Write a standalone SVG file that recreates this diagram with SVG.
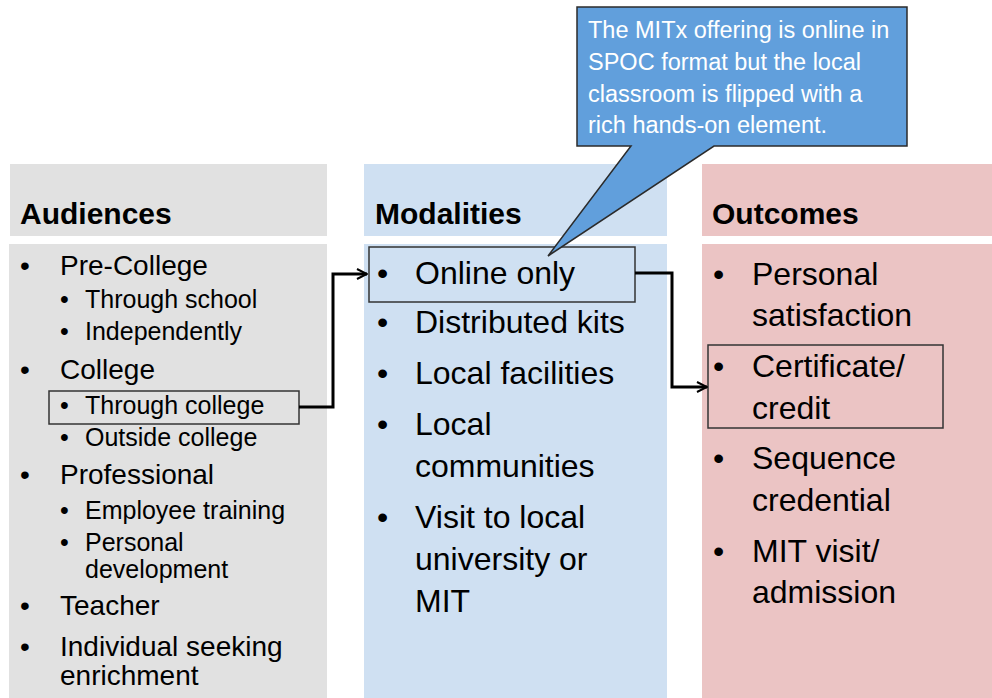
<svg xmlns="http://www.w3.org/2000/svg" width="992" height="698" viewBox="0 0 992 698">
<defs>
<marker id="arr" viewBox="0 0 12 12" refX="11" refY="6" markerWidth="12" markerHeight="12" markerUnits="userSpaceOnUse" orient="auto">
<path d="M1,1 L11,6 L1,11" fill="none" stroke="#000" stroke-width="2"/>
</marker>
<style>
text{font-family:"Liberation Sans",Arial,sans-serif;fill:#000}
.h{font-weight:bold;font-size:30px}
.m{font-size:32px}
.l{font-size:28px}
.s{font-size:25px}
.c{font-size:23.5px;fill:#fff}
.box{fill:none;stroke:#333;stroke-width:1.5}
.conn{fill:none;stroke:#000;stroke-width:3}
</style>
</defs>
<rect width="992" height="698" fill="#fff"/>
<g id="audiences">
<rect x="10" y="164" width="317" height="72" fill="#e1e1e1"/>
<rect x="9" y="244" width="318" height="454" fill="#e1e1e1"/>
<text class="h" x="20" y="224">Audiences</text>
<text class="l" x="20" y="275">•</text><text class="l" x="60" y="275">Pre-College</text>
<text class="s" x="60" y="308">•</text><text class="s" x="85" y="308">Through school</text>
<text class="s" x="60" y="340">•</text><text class="s" x="85" y="340">Independently</text>
<text class="l" x="20" y="379">•</text><text class="l" x="60" y="379">College</text>
<text class="s" x="60" y="414">•</text><text class="s" x="85" y="414">Through college</text>
<text class="s" x="60" y="446">•</text><text class="s" x="85" y="446">Outside college</text>
<text class="l" x="20" y="484">•</text><text class="l" x="60" y="484">Professional</text>
<text class="s" x="60" y="519">•</text><text class="s" x="85" y="519">Employee training</text>
<text class="s" x="60" y="551">•</text><text class="s" x="85" y="551">Personal</text>
<text class="s" x="85" y="578">development</text>
<text class="l" x="20" y="615">•</text><text class="l" x="60" y="615">Teacher</text>
<text class="l" x="20" y="656">•</text><text class="l" x="60" y="656">Individual seeking</text>
<text class="l" x="60" y="685">enrichment</text>
<rect class="box" x="49" y="391" width="250" height="33"/>
</g>
<g id="modalities">
<rect x="364" y="164" width="303" height="72" fill="#cfe0f2"/>
<rect x="364" y="244" width="303" height="454" fill="#cfe0f2"/>
<text class="h" x="375" y="224">Modalities</text>
<text class="m" x="377" y="284">•</text><text class="m" x="415" y="284">Online only</text>
<text class="m" x="377" y="333">•</text><text class="m" x="415" y="333">Distributed kits</text>
<text class="m" x="377" y="384">•</text><text class="m" x="415" y="384">Local facilities</text>
<text class="m" x="377" y="435">•</text><text class="m" x="415" y="435">Local</text>
<text class="m" x="415" y="477">communities</text>
<text class="m" x="377" y="528">•</text><text class="m" x="415" y="528">Visit to local</text>
<text class="m" x="415" y="570">university or</text>
<text class="m" x="415" y="612">MIT</text>
<rect class="box" x="369" y="247" width="266" height="55"/>
</g>
<g id="outcomes">
<rect x="702" y="164" width="290" height="72" fill="#ebc4c4"/>
<rect x="702" y="244" width="290" height="454" fill="#ebc4c4"/>
<text class="h" x="712" y="224">Outcomes</text>
<text class="m" x="713" y="285">•</text><text class="m" x="752" y="285">Personal</text>
<text class="m" x="752" y="326">satisfaction</text>
<text class="m" x="713" y="377">•</text><text class="m" x="752" y="377">Certificate/</text>
<text class="m" x="752" y="419">credit</text>
<text class="m" x="713" y="469">•</text><text class="m" x="752" y="469">Sequence</text>
<text class="m" x="752" y="511">credential</text>
<text class="m" x="713" y="562">•</text><text class="m" x="752" y="562">MIT visit/</text>
<text class="m" x="752" y="603">admission</text>
<rect class="box" x="708" y="345" width="235" height="83"/>
</g>
<g id="connectors">
<path class="conn" d="M299,407 H333 V274 H367" marker-end="url(#arr)"/>
<path class="conn" d="M635,273 H672 V387 H707" marker-end="url(#arr)"/>
</g>
<g id="callout">
<path d="M577,7 H907 V146 H714 L548,256 L631,146 H577 Z" fill="#619fdc" stroke="#2b2b2b" stroke-width="1.5" stroke-linejoin="miter"/>
<text class="c" x="588" y="38">The MITx offering is online in</text>
<text class="c" x="588" y="70">SPOC format but the local</text>
<text class="c" x="588" y="102">classroom is flipped with a</text>
<text class="c" x="588" y="133">rich hands-on element.</text>
</g>
</svg>
